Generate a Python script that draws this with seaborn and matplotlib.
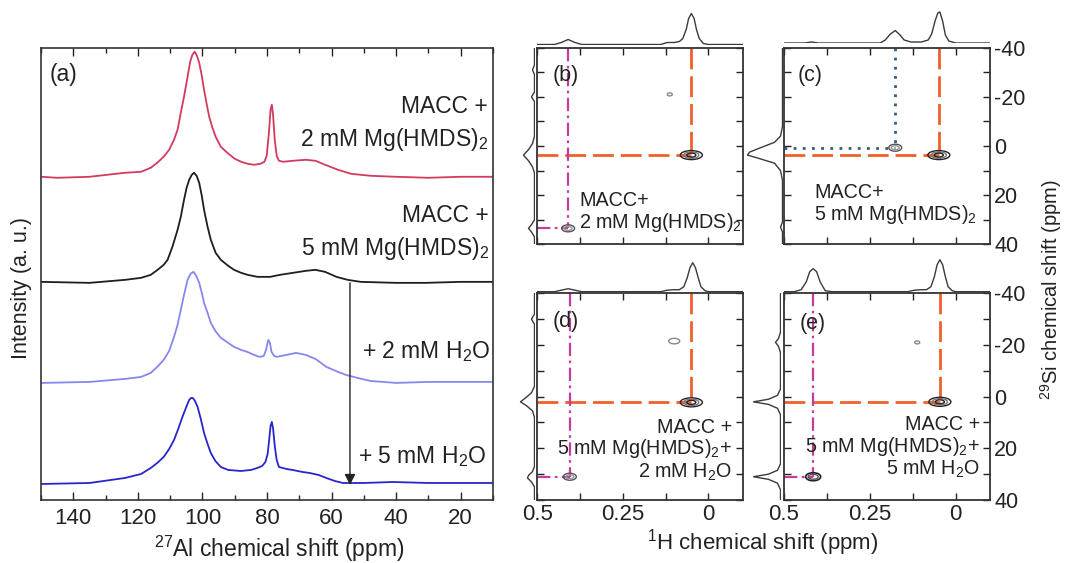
import numpy as np
import matplotlib
matplotlib.use("Agg")
import matplotlib.pyplot as plt
from matplotlib.patches import Ellipse
from matplotlib.ticker import FixedLocator, FixedFormatter, MultipleLocator
import seaborn as sns

# ---------------- data: panel (a) 27Al spectra (ppm, intensity above baseline) -------------
red_ppm = [150, 145, 135, 124, 119, 116, 114, 112, 110.3, 108.8, 107.7, 106.7, 105.7, 104.6, 103.8,
           103.1, 102.4, 101.7, 101, 100.2, 99.5, 98.7, 97.9, 96.9, 95.9, 94.3, 92.3, 90, 88, 86,
           84, 82, 80.8, 80.1, 79.4, 78.9, 78.5, 78.1, 77.6, 77, 76.3, 75, 72, 68, 65, 62, 58, 54,
           48, 40, 30, 20, 10]
red_int = [1, 0, 1, 5, 6, 10, 15, 21, 28, 38, 48, 65, 81, 101, 116,
           123, 126, 122, 115, 102, 88, 74, 61, 50, 41, 31, 25, 19, 16, 14,
           13, 14, 16, 22, 45, 68, 73, 62, 38, 22, 17, 16, 17, 18, 17, 13, 8, 4,
           2, 1, 0, 1, 1]
black_ppm = [150, 135, 124, 119, 116, 113.9, 112, 110.8, 109.3, 107.7, 106.7, 105.7, 104.9, 104.1,
             103.3, 102.6, 101.8, 101, 100.2, 99.5, 98.4, 97.4, 95.9, 94.3, 92, 90.2, 88, 86, 83,
             79, 76, 72, 68, 65, 62, 58.5, 55, 51, 40, 31, 20, 10]
black_int = [1, 0, 3, 5, 8, 13, 18, 23, 36, 53, 66, 83, 95, 103,
             108, 110, 107, 100, 87, 73, 56, 43, 30, 23, 17, 13, 10, 8, 6,
             6, 8, 10, 12, 13, 11, 6, 3, 1, 0, 0, 1, 1]
lblue_ppm = [150, 135, 124, 119, 116, 114, 112, 110.3, 108.8, 107.7, 106.7, 105.7, 104.6, 103.7,
             102.8, 101.9, 101, 100.2, 99.5, 98.4, 97.4, 96, 94.3, 92, 90.2, 88, 86.1, 84, 82.3,
             81, 80.3, 79.6, 79.1, 78.6, 77.8, 77, 74, 71, 68, 65, 61.6, 58, 55.5, 52, 48, 40,
             30, 20, 10]
lblue_int = [0, 1, 4, 6, 10, 16, 23, 32, 46, 58, 73, 88, 103, 109,
             111, 107, 100, 90, 80, 70, 60, 52, 45, 40, 36, 33, 31, 28, 26,
             27, 33, 43, 40, 31, 27, 26, 28, 30, 28, 24, 16, 11, 8, 5, 2, 0,
             1, 1, 1]
blue_ppm = [150, 135, 124, 119, 116, 114, 112, 110.3, 108.8, 107.5, 106.2, 105, 104.1, 103.5, 103,
            102.3, 101.5, 100.5, 99.5, 98.4, 97.4, 96, 94.3, 92, 88.1, 85, 83, 81.5, 80.5, 79.8,
            79.3, 78.9, 78.5, 78.1, 77.6, 77, 76.3, 74, 72, 69, 66.8, 64, 61.6, 59, 56.5, 50, 41,
            30, 20, 10]
blue_int = [0, 1, 6, 10, 16, 21, 27, 35, 44, 55, 67, 77, 84, 86, 86,
            83, 77, 65, 51, 40, 31, 23, 17, 14, 13, 14, 16, 18, 22, 30,
            45, 58, 62, 55, 38, 24, 17, 15, 14, 12, 11, 9, 6, 3, 1, 1, 2,
            1, 1, 1]
al_labels = ["MACC +\n2 mM Mg(HMDS)$_2$", "MACC +\n5 mM Mg(HMDS)$_2$",
             "+ 2 mM H$_2$O", "+ 5 mM H$_2$O"]
arrow_ppm = 54.3

# ---------------- data: panels (b)-(e) 1H-29Si 2D spectra ----------------
h_tick_vals = [0.5, 0.25, 0]
h_tick_labels = ["0.5", "0.25", "0"]
si_tick_vals = [-40, -20, 0, 20, 40]
si_tick_labels = ["-40", "-20", "0", "20", "40"]

b_top_h = [0.5, 0.45, 0.43, 0.41, 0.39, 0.37, 0.2, 0.14, 0.12, 0.1, 0.085, 0.075, 0.065, 0.058,
           0.05, 0.042, 0.035, 0.027, 0.015, 0.0, -0.1]
b_top_int = [0, 0, 2, 5, 2, 0, 0, 0, 2, 2, 3, 6, 15, 26, 31, 26, 15, 6, 1, 0, 0]
b_left_si = [-40, -33, -31, -29, -22, -20, -18, -4, -1, 1.5, 3.7, 6, 8.5, 11, 30, 32, 33.5, 35, 37, 40]
b_left_int = [0, 0, 2, 0, 0, 3, 0, 0, 2, 6, 11, 6, 2, 0, 0, 3, 6, 3, 0, 0]
b_peak_h = [0.05, 0.41, 0.113]
b_peak_si = [3.7, 33.5, -21.0]

c_top_h = [0.5, 0.44, 0.42, 0.40, 0.22, 0.205, 0.19, 0.176, 0.162, 0.15, 0.13, 0.1, 0.08, 0.07,
           0.06, 0.052, 0.046, 0.038, 0.03, 0.02, 0.0, -0.1]
c_top_int = [0, 0, 1, 0, 0, 3, 9, 12.5, 8, 3, 1, 1, 3, 9, 22, 30, 31, 22, 8, 2, 0, 0]
c_left_si = [-40, -8, -4, -1.5, 0.7, 2.5, 3.7, 5, 7, 10, 14, 31, 33, 35, 40]
c_left_int = [0, 0, 2, 8, 22, 33, 35, 24, 8, 2, 0, 0, 2, 0, 0]
c_peak_h = [0.049, 0.176]
c_peak_si = [3.7, 0.7]

d_top_h = [0.5, 0.45, 0.43, 0.41, 0.39, 0.37, 0.2, 0.14, 0.12, 0.1, 0.085, 0.072, 0.062, 0.054,
           0.046, 0.038, 0.03, 0.022, 0.01, 0.0, -0.1]
d_top_int = [0, 0, 1.5, 3, 1.5, 0, 0, 0, 1.5, 2, 2, 5, 14, 24, 29, 24, 14, 5, 1, 0, 0]
d_left_si = [-40, -32, -30, -28, -4, -1.5, 0.5, 2, 3.5, 5.5, 8, 27, 29, 30.5, 31.5, 33, 35, 40]
d_left_int = [0, 0, 3, 0, 0, 3, 9, 14, 8, 2, 0, 0, 2, 6, 7, 3, 0, 0]
d_peak_h = [0.05, 0.405, 0.10]
d_peak_si = [2.2, 31.0, -21.5]

e_top_h = [0.5, 0.47, 0.45, 0.435, 0.425, 0.415, 0.405, 0.395, 0.38, 0.36, 0.2, 0.14, 0.12, 0.1,
           0.085, 0.072, 0.062, 0.054, 0.046, 0.038, 0.03, 0.022, 0.01, 0.0, -0.1]
e_top_int = [0, 0, 2, 10, 20, 23, 20, 10, 1, 0, 0, 0, 1.5, 2, 2, 5, 15, 27, 32, 27, 15, 5, 1, 0, 0]
e_left_si = [-40, -25, -22.5, -21, -19.5, -17, -3, -0.5, 1, 2, 3, 4.5, 7, 26, 28.5, 30, 31, 32,
             33.5, 36, 40]
e_left_int = [0, 0, 2, 5, 2, 0, 0, 3, 12, 27, 12, 3, 0, 0, 3, 12, 27, 12, 3, 0, 0]
e_peak_h = [0.046, 0.415, 0.112]
e_peak_si = [2.0, 31.0, -21.0]

panel_texts = ["MACC+\n2 mM Mg(HMDS)$_2$", "MACC+\n5 mM Mg(HMDS)$_2$",
               "MACC +\n5 mM Mg(HMDS)$_2$+\n2 mM H$_2$O", "MACC +\n5 mM Mg(HMDS)$_2$+\n5 mM H$_2$O"]

# ---------------- style ----------------
sns.set_theme(style="ticks")
plt.rcParams["font.family"] = ["Liberation Sans", "DejaVu Sans"]
plt.rcParams["mathtext.fontset"] = "custom"
plt.rcParams["mathtext.rm"] = "Liberation Sans"
plt.rcParams["mathtext.it"] = "Liberation Sans:italic"
plt.rcParams["mathtext.bf"] = "Liberation Sans:bold"
plt.rcParams["axes.unicode_minus"] = False

W, H = 1069, 563
fig = plt.figure(figsize=(W / 100, H / 100), dpi=100)
fig.patch.set_facecolor("white")


def px_axes(x0, y0, x1, y1):
    return fig.add_axes([x0 / W, 1 - y1 / H, (x1 - x0) / W, (y1 - y0) / H])


def ftext(x, y, s, **kw):
    return fig.text(x / W, 1 - y / H, s, **kw)


SPINE = "#333333"
TXT = "#222222"

# ---------------- panel (a) ----------------
axA = px_axes(41, 47.7, 493, 500)
al_sets = [(red_ppm, red_int, 322, "#d23a5e"),
           (black_ppm, black_int, 217, "#1e1e1e"),
           (lblue_ppm, lblue_int, 117, "#8787ee"),
           (blue_ppm, blue_int, 16, "#2626cc")]
for ppm, inten, off, col in al_sets:
    sns.lineplot(x=ppm, y=np.asarray(inten, float) + off, ax=axA, color=col, lw=1.3,
                 sort=False, estimator=None)
axA.set_xlim(150, 10)
axA.set_ylim(0, 452)
axA.set_yticks([])
axA.xaxis.set_major_locator(MultipleLocator(20))
axA.xaxis.set_minor_locator(MultipleLocator(10))
axA.tick_params(axis="x", which="both", direction="in", top=True, bottom=True,
                labelsize=16, pad=6, colors=TXT)
axA.tick_params(axis="x", which="major", length=6, width=1)
axA.tick_params(axis="x", which="minor", length=3.5, width=1)
axA.set_xlabel("")
axA.set_ylabel("")
for s in axA.spines.values():
    s.set_linewidth(1.2)
    s.set_color(SPINE)
axA.annotate("", xy=(arrow_ppm, al_sets[3][2] - 1), xytext=(arrow_ppm, al_sets[1][2]),
             xycoords="data", textcoords="data",
             arrowprops=dict(arrowstyle="-|>", color=TXT, lw=1.0, mutation_scale=16,
                             shrinkA=0, shrinkB=0))

ftext(50, 74, "(a)", fontsize=16.5, ha="left", va="center", color=TXT)
al_label_pos = [(488, 145.7), (489, 255), (490, 357.7), (486, 463.3)]
for (x, y), lab in zip(al_label_pos, al_labels):
    ftext(x, y, lab, fontsize=16.5, ha="right", va="baseline", color=TXT,
          linespacing=1.4, multialignment="right")
ftext(279, 549, "$^{27}$Al chemical shift (ppm)", fontsize=16.5, ha="center", va="center",
      color=TXT)
ftext(22, 288, "Intensity (a. u.)", fontsize=15.5, ha="center", va="center", rotation=90,
      color=TXT)

# ---------------- panels (b)-(e) ----------------
guide_styles = {
    "orange": dict(color="#f0602a", lw=2.0, ls=(0, (7.5, 2.5))),
    "magenta": dict(color="#c43c9c", lw=1.6, ls=(0, (6, 2, 1.2, 2))),
    "blue": dict(color="#2f5e78", lw=2.0, ls=(0, (1, 2.3))),
}
ring_styles = {
    "main": [(22, 9, "#222222", 1.0), (15, 6.5, "#777777", 1.0), (9, 4, "#222222", 1.0)],
    "side": [(13, 7, "#555555", 1.0), (8, 4, "#999999", 1.0)],
    "side_dark": [(15, 8, "#222222", 1.2), (10, 5, "#555555", 1.0)],
    "tiny": [(5, 3, "#888888", 1.0)],
    "tiny2": [(11, 5.5, "#888888", 1.0)],
}

panels = [
    dict(label="(b)", box=(537.3, 47.7, 742.7, 244.3), top_base=44.5, left_base=534.5,
         top=(b_top_h, b_top_int), left=(b_left_si, b_left_int),
         peaks=(b_peak_h, b_peak_si), kinds=["main", "side", "tiny"],
         guides=["orange", "magenta", None], text=panel_texts[0],
         text_pos=(579, 228), text_ha="left", label_pos=(553, 75),
         xlab=False, ylab=False),
    dict(label="(c)", box=(784, 47.7, 990, 244.3), top_base=43.0, left_base=782.5,
         top=(c_top_h, c_top_int), left=(c_left_si, c_left_int),
         peaks=(c_peak_h, c_peak_si), kinds=["main", "side"],
         guides=["orange", "blue"], text=panel_texts[1],
         text_pos=(814, 220), text_ha="left", label_pos=(798, 75),
         xlab=False, ylab=True),
    dict(label="(d)", box=(537.3, 293.3, 742.7, 500), top_base=291.7, left_base=534.5,
         top=(d_top_h, d_top_int), left=(d_left_si, d_left_int),
         peaks=(d_peak_h, d_peak_si), kinds=["main", "side", "tiny2"],
         guides=["orange", "magenta", None], text=panel_texts[2],
         text_pos=(732, 477.3), text_ha="right", label_pos=(553, 322),
         xlab=True, ylab=False),
    dict(label="(e)", box=(784, 293.3, 990, 500), top_base=291.7, left_base=780.5,
         top=(e_top_h, e_top_int), left=(e_left_si, e_left_int),
         peaks=(e_peak_h, e_peak_si), kinds=["main", "side_dark", "tiny"],
         guides=["orange", "magenta", None], text=panel_texts[3],
         text_pos=(980, 475), text_ha="right", label_pos=(800, 323),
         xlab=True, ylab=True),
]

HX = (0.5, -0.1)
SY = (40, -40)
PROJ = "#3a3a3a"

for p in panels:
    x0, y0, x1, y1 = p["box"]
    # projections
    axT = px_axes(x0, p["top_base"] - 36, x1, p["top_base"])
    axT.patch.set_alpha(0)
    sns.lineplot(x=p["top"][0], y=p["top"][1], ax=axT, color=PROJ, lw=1.0,
                 sort=False, estimator=None)
    axT.set_xlim(*HX)
    axT.set_ylim(0, 36)
    axT.axis("off")

    lb = p["left_base"]
    axL = px_axes(lb - 40, y0, lb, y1)
    axL.patch.set_alpha(0)
    sns.lineplot(x=p["left"][1], y=p["left"][0], ax=axL, color=PROJ, lw=1.0,
                 sort=False, estimator=None, orient="y")
    axL.set_xlim(40, 0)
    axL.set_ylim(*SY)
    axL.axis("off")

    # main 2D axes
    ax = px_axes(x0, y0, x1, y1)
    ax.patch.set_alpha(0)
    ax.set_xlim(*HX)
    ax.set_ylim(*SY)
    wpx, hpx = x1 - x0, y1 - y0
    dx = (HX[0] - HX[1]) / wpx
    dy = (SY[0] - SY[1]) / hpx
    for hh, ss, kind, g in zip(p["peaks"][0], p["peaks"][1], p["kinds"], p["guides"]):
        if g is not None:
            st = guide_styles[g]
            ax.plot([hh, hh], [SY[1], ss], color=st["color"], lw=st["lw"], ls=st["ls"], zorder=2)
            ax.plot([HX[0], hh], [ss, ss], color=st["color"], lw=st["lw"], ls=st["ls"], zorder=2)
        for (rw, rh, rc, rlw) in ring_styles[kind]:
            ax.add_patch(Ellipse((hh, ss), rw * dx, rh * dy, fill=False, edgecolor=rc,
                                 lw=rlw, zorder=3))
    ax.xaxis.set_major_locator(FixedLocator(h_tick_vals))
    ax.xaxis.set_major_formatter(FixedFormatter(h_tick_labels))
    ax.xaxis.set_minor_locator(FixedLocator([0.375, 0.125]))
    ax.yaxis.set_major_locator(FixedLocator(si_tick_vals))
    ax.yaxis.set_major_formatter(FixedFormatter(si_tick_labels))
    ax.yaxis.set_minor_locator(FixedLocator([-30, -10, 10, 30]))
    ax.tick_params(which="both", direction="in", top=True, bottom=True, left=True, right=True,
                   length=5, width=1, colors=TXT,
                   labeltop=False, labelleft=False, labelbottom=False, labelright=False, pad=3)
    ax.tick_params(axis="x", labelbottom=p["xlab"], labelsize=16)
    ax.tick_params(axis="y", labelright=p["ylab"], labelsize=15.5)
    for s in ax.spines.values():
        s.set_linewidth(1.3)
        s.set_color(SPINE)

    ftext(p["label_pos"][0], p["label_pos"][1], p["label"], fontsize=15.5, ha="left",
          va="center", color=TXT)
    ftext(p["text_pos"][0], p["text_pos"][1], p["text"], fontsize=14.2, ha=p["text_ha"],
          va="baseline", color=TXT, linespacing=1.05,
          multialignment=p["text_ha"])

ftext(763, 543, "$^{1}$H chemical shift (ppm)", fontsize=16, ha="center", va="center",
      color=TXT)
ftext(1051, 290, "$^{29}$Si chemical shift (ppm)", fontsize=14.5, ha="center", va="center",
      rotation=90, color=TXT)

fig.savefig("out.png", dpi=100, facecolor="white")
